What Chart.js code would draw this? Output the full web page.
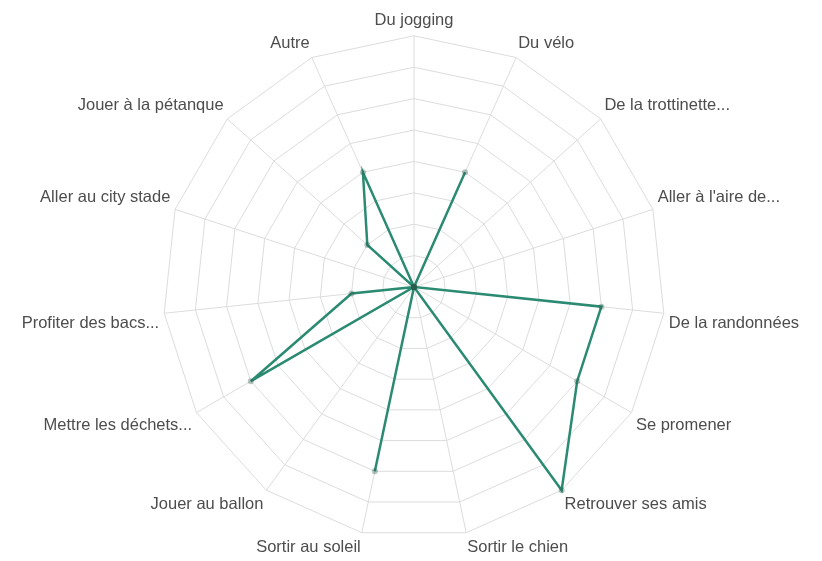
<!DOCTYPE html>
<html lang="fr">
<head>
<meta charset="utf-8">
<script src="https://cdn.jsdelivr.net/npm/chart.js@4/dist/chart.umd.min.js"></script>
<style>
  html, body { margin: 0; padding: 0; background: #fff; }
  #wrap { width: 822px; height: 561px; position: relative; }
</style>
</head>
<body>
<div id="wrap"><canvas id="radar"></canvas></div>
<script>
// Catégories (libellés tronqués comme dans l'original)
const categories = [
    'Du jogging', 'Du vélo', 'De la trottinette...', "Aller à l'aire de...",
    'De la randonnées', 'Se promener', 'Retrouver ses amis', 'Sortir le chien',
    'Sortir au soleil', 'Jouer au ballon', 'Mettre les déchets...', 'Profiter des bacs...',
    'Aller au city stade', 'Jouer à la pétanque', 'Autre'
];

// Nombre de réponses par activité
const responses = [0, 4, 0, 0, 6, 6, 8, 0, 6, 0, 6, 2, 0, 2, 4];

// Graduations de l'échelle (8 anneaux)
const scaleMin = 0;
const scaleMax = 8;
const scaleStep = 1;

new Chart(document.getElementById('radar'), {
    type: 'radar',
    data: {
        labels: categories,
        datasets: [{
            label: 'Réponses',
            data: responses,
            borderColor: '#2b8a72',
            borderWidth: 2.5,
            backgroundColor: 'transparent',
            fill: false,
            pointRadius: 3,
            pointBorderWidth: 0,
            pointBackgroundColor: 'rgba(40, 90, 75, 0.35)'
        }]
    },
    options: {
        responsive: true,
        maintainAspectRatio: false,
        animation: false,
        layout: { padding: { top: 8, bottom: 0 } },
        plugins: {
            legend: { display: false },
            tooltip: { enabled: false }
        },
        scales: {
            r: {
                min: scaleMin,
                max: scaleMax,
                ticks: { stepSize: scaleStep, display: false },
                grid: { color: '#dcdcdc', lineWidth: 1 },
                angleLines: { color: '#dcdcdc', lineWidth: 1 },
                pointLabels: {
                    color: '#4d4d4d',
                    font: { family: 'Liberation Sans, Arial, sans-serif', size: 16.5 },
                    padding: 5
                }
            }
        }
    }
});
</script>
</body>
</html>
